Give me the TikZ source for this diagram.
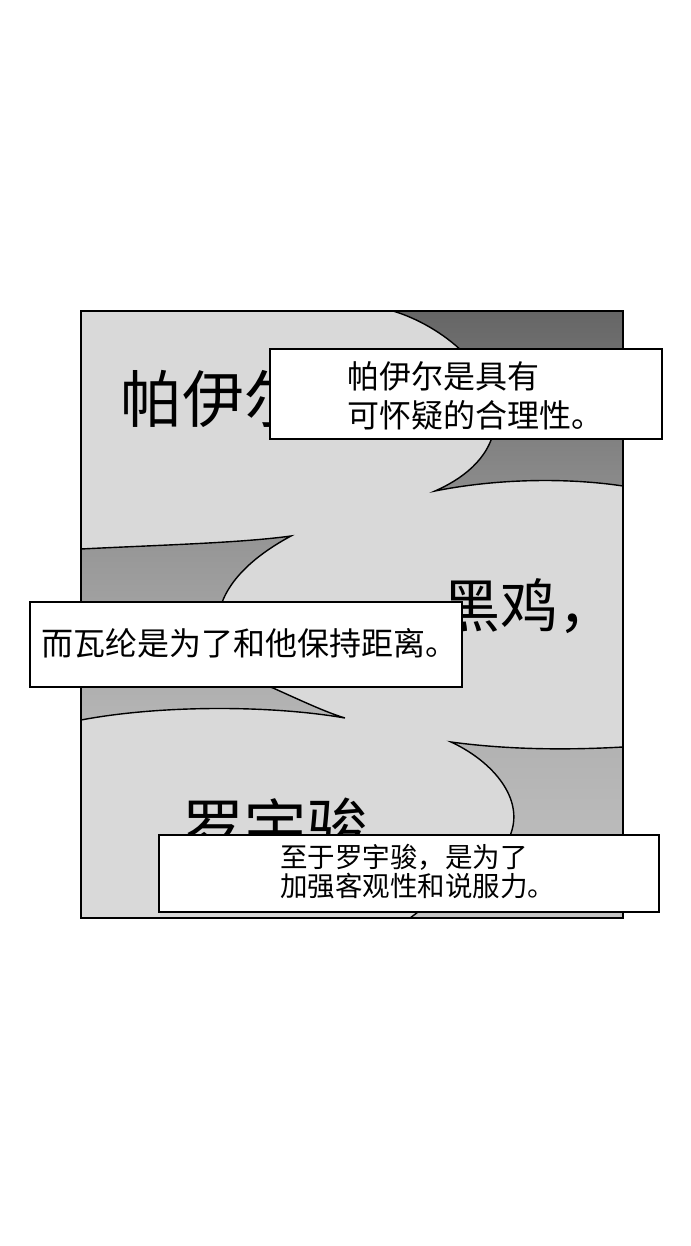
\documentclass[tikz,border=0pt]{standalone}
\usepackage{fontspec}
\newfontfamily\cjk{Noto Sans CJK SC}
\definecolor{panelgray}{HTML}{D9D9D9}
\definecolor{aTop}{HTML}{666666}
\definecolor{aBot}{HTML}{8C8C8C}
\definecolor{bTop}{HTML}{959595}
\definecolor{bBot}{HTML}{B5B5B5}
\definecolor{cTop}{HTML}{B2B2B2}
\definecolor{cBot}{HTML}{C3C3C3}
\begin{document}
\begin{tikzpicture}[x=1pt,y=-1pt,
  cloudedge/.style={draw=black,line width=1.4pt},
  panelline/.style={draw=black,line width=2pt},
  capbox/.style={draw=black,fill=white,line width=2pt,inner sep=0pt,anchor=north west},
  bigtxt/.style={inner sep=0pt,anchor=base west,font=\cjk\fontsize{62}{62}\selectfont},
  captxt/.style={inner sep=0pt,anchor=base west}]
\useasboundingbox (0,0) rectangle (690,1246);
\fill[white] (0,0) rectangle (690,1246);
% panel background
\fill[panelgray] (81,311) rectangle (623,918);
% region A (top right)
\shade[top color=aTop,bottom color=aBot] (393,311) .. controls (440,325) and (500,370) .. (495,425) .. controls (490,460) and (460,480) .. (435,491) .. controls (500,478) and (570,478) .. (623,486) -- (623,311) -- cycle;
\draw[cloudedge] (393,311) .. controls (440,325) and (500,370) .. (495,425) .. controls (490,460) and (460,480) .. (435,491) .. controls (500,478) and (570,478) .. (623,486);
% region B (left middle)
\shade[top color=bTop,bottom color=bBot] (81,549) .. controls (160,545) and (240,543) .. (291,536) .. controls (250,558) and (215,590) .. (218,630) .. controls (222,660) and (250,680) .. (273,688) .. controls (300,700) and (325,712) .. (345,718) .. controls (270,705) and (160,705) .. (81,720) -- cycle;
\draw[cloudedge] (81,549) .. controls (160,545) and (240,543) .. (291,536) .. controls (250,558) and (215,590) .. (218,630) .. controls (222,660) and (250,680) .. (273,688) .. controls (300,700) and (325,712) .. (345,718) .. controls (270,705) and (160,705) .. (81,720);
% region C (bottom right)
\shade[top color=cTop,bottom color=cBot] (451,742) .. controls (510,750) and (570,750) .. (623,747) -- (623,918) -- (410,918) .. controls (460,880) and (505,860) .. (512,830) .. controls (522,795) and (490,760) .. (451,742) -- cycle;
\draw[cloudedge] (623,747) .. controls (570,750) and (510,750) .. (451,742) .. controls (490,760) and (522,795) .. (512,830) .. controls (505,860) and (460,880) .. (410,918);
% big background words
\node[bigtxt] (w1) at (120,422) {帕伊尔};
\node[bigtxt,font=\cjk\fontsize{58}{58}\selectfont] (w2) at (442,627) {黑鸡，};
\node[bigtxt] (w3) at (182,850) {罗宇骏};
% panel border
\draw[panelline] (81,311) rectangle (623,918);
% caption boxes
\node[capbox,minimum width=392pt,minimum height=90pt] (box1) at (269,348) {};
\node[captxt,font=\cjk\fontsize{32}{32}\selectfont] (t1a) at (347,388) {帕伊尔是具有};
\node[captxt,font=\cjk\fontsize{32}{32}\selectfont] (t1b) at (347,427) {可怀疑的合理性。};
\node[capbox,minimum width=432pt,minimum height=85pt] (box2) at (29,601) {};
\node[captxt,font=\cjk\fontsize{32}{32}\selectfont] (t2) at (41,655) {而瓦纶是为了和他保持距离。};
\node[capbox,minimum width=500pt,minimum height=77pt] (box3) at (158,834) {};
\node[captxt,font=\cjk\fontsize{27.5}{27.5}\selectfont] (t3a) at (280,867) {至于罗宇骏，是为了};
\node[captxt,font=\cjk\fontsize{27.5}{27.5}\selectfont] (t3b) at (280,896) {加强客观性和说服力。};
\end{tikzpicture}
\end{document}
